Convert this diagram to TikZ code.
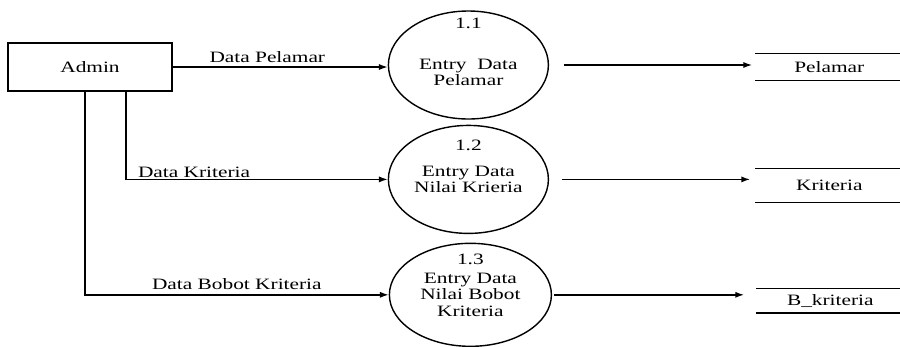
\documentclass[tikz,border=0pt]{standalone}
\usepackage{fontspec}
\setmainfont[FakeStretch=1.35]{Liberation Serif}
\usetikzlibrary{positioning,shapes.geometric,arrows.meta}

\begin{document}
\begin{tikzpicture}[
        font=\fontsize{9}{9.2}\selectfont,
        line width=0.8pt,
        entity/.style={draw, minimum width=3.28cm, minimum height=0.96cm},
        proc/.style={draw, ellipse, align=center, inner sep=0pt, minimum width=3.2cm, minimum height=2.16cm},
        store/.style={minimum width=2.94cm, inner sep=0pt},
        flow/.style={-{Latex[length=5pt,width=3.5pt]}}
    ]
        \useasboundingbox (0,0) rectangle (18,-6.92);

        \node[entity] (admin) at (1.8,-1.34) {Admin};

        \node[proc, right=4.3cm of admin, yshift=0.04cm,
              label={[name=n1, label distance=-0.5cm]90:1.1}] (p1) {\rule{0pt}{0.5cm}Entry~~Data\\Pelamar};
        \node[proc, below=0.1cm of p1,
              label={[name=n2, label distance=-0.66cm]90:1.2}] (p2) {Entry Data\\Nilai Krieria};
        \node[proc, below=0.17cm of p2, xshift=0.04cm, minimum width=3.24cm, minimum height=2.06cm,
              label={[name=n3, label distance=-0.57cm]90:1.3}] (p3) {Entry Data\\Nilai Bobot\\Kriteria};

        \node[store, minimum height=0.52cm, right=4.12cm of p1, yshift=-0.04cm] (d1) {Pelamar};
        \node[store, minimum height=0.66cm, right=4.12cm of p2, yshift=-0.12cm] (d2) {Kriteria};
        \node[store, minimum height=0.46cm, right=4.08cm of p3, yshift=-0.12cm] (d3) {B\_kriteria};

        \foreach \s in {d1,d2,d3}
            \draw (\s.north west) -- (\s.north east) (\s.south west) -- (\s.south east);

        % aliran dari admin
        \draw[flow] (admin.east) -- (admin.east -| p1.west)
            node[pos=0.44, above=-1pt] (f1) {Data Pelamar};
        \draw[flow] ([xshift=0.72cm]admin.south) |- (p2.west)
            node[pos=0.63, above=-3pt] (f2) {Data Kriteria};
        \draw[flow] ([xshift=-0.1cm]admin.south) |- (p3.west)
            node[pos=0.75, above=-1pt] (f3) {Data Bobot Kriteria};

        % aliran ke data store
        \draw[flow, shorten <=0.3cm, shorten >=0.06cm] (p1.east) -- (p1.east -| d1.west);
        \draw[flow, shorten <=0.26cm, shorten >=0.1cm] (p2.east) -- (p2.east -| d2.west);
        \draw[flow, shorten <=0.04cm, shorten >=0.24cm] (p3.east) -- (p3.east -| d3.west);
    \end{tikzpicture}
\end{document}
